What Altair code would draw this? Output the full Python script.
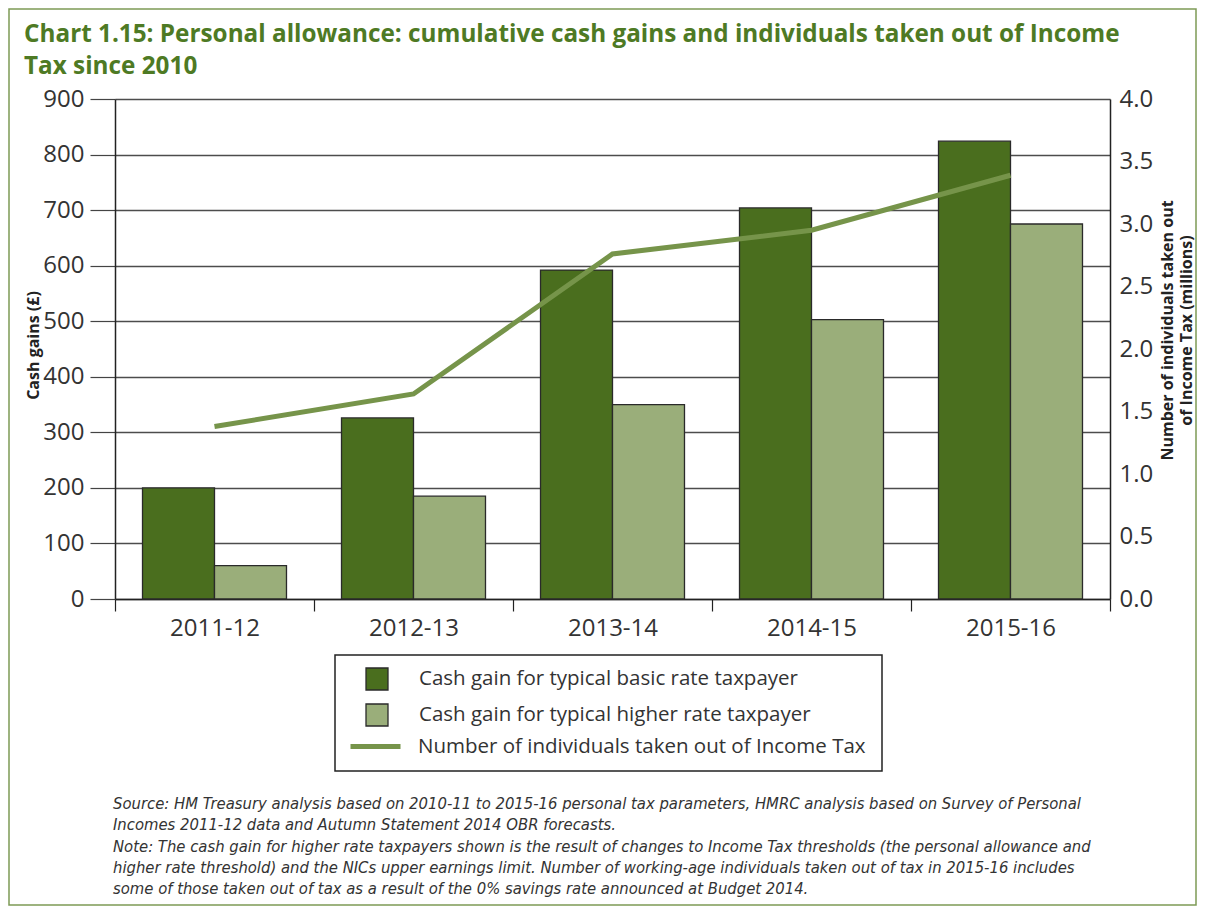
import altair as alt
import pandas as pd

# ---------------- data ----------------
years = ["2011-12", "2012-13", "2013-14", "2014-15", "2015-16"]
basic_gain = [200, 326, 592, 704, 824]
higher_gain = [60, 185, 350, 503, 675]
individuals_m = [1.38, 1.64, 2.76, 2.95, 3.39]

series_names = [
    "Cash gain for typical basic rate taxpayer",
    "Cash gain for typical higher rate taxpayer",
]
line_name = "Number of individuals taken out of Income Tax"

title_lines = [
    "Chart 1.15: Personal allowance: cumulative cash gains and individuals taken out of Income",
    "Tax since 2010",
]
footnote_lines = [
    "Source: HM Treasury analysis based on 2010-11 to 2015-16 personal tax parameters, HMRC analysis based on Survey of Personal",
    "Incomes 2011-12 data and Autumn Statement 2014 OBR forecasts.",
    "Note: The cash gain for higher rate taxpayers shown is the result of changes to Income Tax thresholds (the personal allowance and",
    "higher rate threshold) and the NICs upper earnings limit. Number of working-age individuals taken out of tax in 2015-16 includes",
    "some of those taken out of tax as a result of the 0% savings rate announced at Budget 2014.",
]

bars_df = pd.DataFrame({
    "year": years * 2,
    "series": [series_names[0]] * len(years) + [series_names[1]] * len(years),
    "value": basic_gain + higher_gain,
})
line_df = pd.DataFrame({"year": years, "individuals": individuals_m, "series": [line_name] * len(years)})

FONT = "Open Sans"
TXT = "#333333"
W, H = 995, 500

x_scale = alt.Scale(domain=years, paddingInner=0, paddingOuter=0)
x_axis = alt.Axis(
    title=None, labelFont=FONT, labelFontSize=24, labelColor=TXT, labelPadding=5,
    labelAngle=0, tickBand="extent", tickSize=12, tickColor="#222222", tickWidth=1.2,
    domainColor="#222222", domainWidth=1.5, grid=False,
)

left_axis = alt.Axis(
    values=list(range(0, 901, 100)), title="Cash gains (£)", titleFont=FONT,
    titleFontSize=16, titleFontWeight="bold", titleColor="#222222",
    titleX=-82, titleY=246, titleAngle=270, titleAlign="center", titleBaseline="middle",
    labelFont=FONT, labelFontSize=24, labelColor=TXT, labelPadding=6,
    tickSize=25, tickColor="#444444", tickWidth=1.2,
    domainColor="#222222", domainWidth=1.5,
    grid=True, gridColor="#4d4d4d", gridWidth=1.3,
)

right_axis = alt.Axis(
    orient="right", values=[0, 0.5, 1, 1.5, 2, 2.5, 3, 3.5, 4], format=".1f",
    title=["Number of individuals taken out", "of Income Tax (millions)"],
    titleFont=FONT, titleFontSize=16, titleFontWeight="bold", titleColor="#222222",
    titleAngle=270, titleX=57, titleY=231, titleAlign="center", titleBaseline="middle",
    titleLineHeight=19,
    labelFont=FONT, labelFontSize=24, labelColor=TXT, labelPadding=9,
    ticks=False, grid=False, domainColor="#222222", domainWidth=1.5,
)

bars = alt.Chart(bars_df).mark_bar(stroke="#2a2a2a", strokeWidth=1.3).encode(
    x=alt.X("year:N", scale=x_scale, axis=x_axis, sort=years),
    xOffset=alt.XOffset("series:N", sort=series_names,
                        scale=alt.Scale(domain=series_names, paddingInner=0, paddingOuter=0.382)),
    y=alt.Y("value:Q", scale=alt.Scale(domain=[0, 900]), axis=left_axis),
    fill=alt.Fill(
        "series:N",
        scale=alt.Scale(domain=series_names, range=["#4a6e1e", "#9aae7a"]),
        legend=alt.Legend(
            orient="none", legendX=250, legendY=568, title=None, padding=0,
            symbolType="square", symbolSize=484, symbolStrokeColor="#2a2a2a",
            symbolStrokeWidth=1.3, labelOffset=30, labelFont=FONT, labelFontSize=20.5,
            labelColor=TXT, rowPadding=8, labelLimit=700,
        ),
    ),
)

line = alt.Chart(line_df).mark_line(strokeWidth=5).encode(
    x=alt.X("year:N", scale=x_scale, sort=years),
    y=alt.Y("individuals:Q", scale=alt.Scale(domain=[0, 4]), axis=right_axis),
    stroke=alt.Stroke(
        "series:N",
        scale=alt.Scale(domain=[line_name], range=["#76944a"]),
        legend=alt.Legend(
            orient="none", legendX=233, legendY=620, title=None, padding=0,
            symbolType="stroke", symbolSize=2500, symbolStrokeWidth=5,
            labelOffset=15, labelFont=FONT, labelFontSize=20.5, labelColor=TXT,
            labelLimit=700,
        ),
    ),
)

one = alt.Data(values=[{"k": 1}])

legend_box = alt.Chart(one).mark_rect(fill="transparent", stroke="#222222", strokeWidth=1.5).encode(
    x=alt.value(220), x2=alt.value(767), y=alt.value(556), y2=alt.value(672)
)

frame = alt.Chart(one).mark_rect(fill="transparent", stroke="#7d9a55", strokeWidth=1.5).encode(
    x=alt.value(-106), x2=alt.value(1081), y=alt.value(-90), y2=alt.value(806)
)

title = alt.Chart(one).mark_text(
    align="left", baseline="alphabetic", font=FONT, fontWeight="bold",
    fontSize=24.3, lineHeight=32, color="#4e7a24",
).encode(x=alt.value(-91), y=alt.value(-57), text=alt.value(title_lines))

footnote = alt.Chart(one).mark_text(
    align="left", baseline="top", font="DejaVu Sans Condensed", fontStyle="italic",
    fontSize=16.5, lineHeight=21.3, color=TXT,
).encode(x=alt.value(-2), y=alt.value(697), text=alt.value(footnote_lines))

chart = alt.layer(frame, bars, line, legend_box, title, footnote).resolve_scale(
    y="independent"
).properties(
    width=W, height=H,
    padding={"left": 107, "top": 91, "right": 87, "bottom": 307},
    autosize=alt.AutoSizeParams(type="none"),
).configure_view(strokeWidth=0)

chart.save("out.html", embed_options={"renderer": "svg", "actions": False})
